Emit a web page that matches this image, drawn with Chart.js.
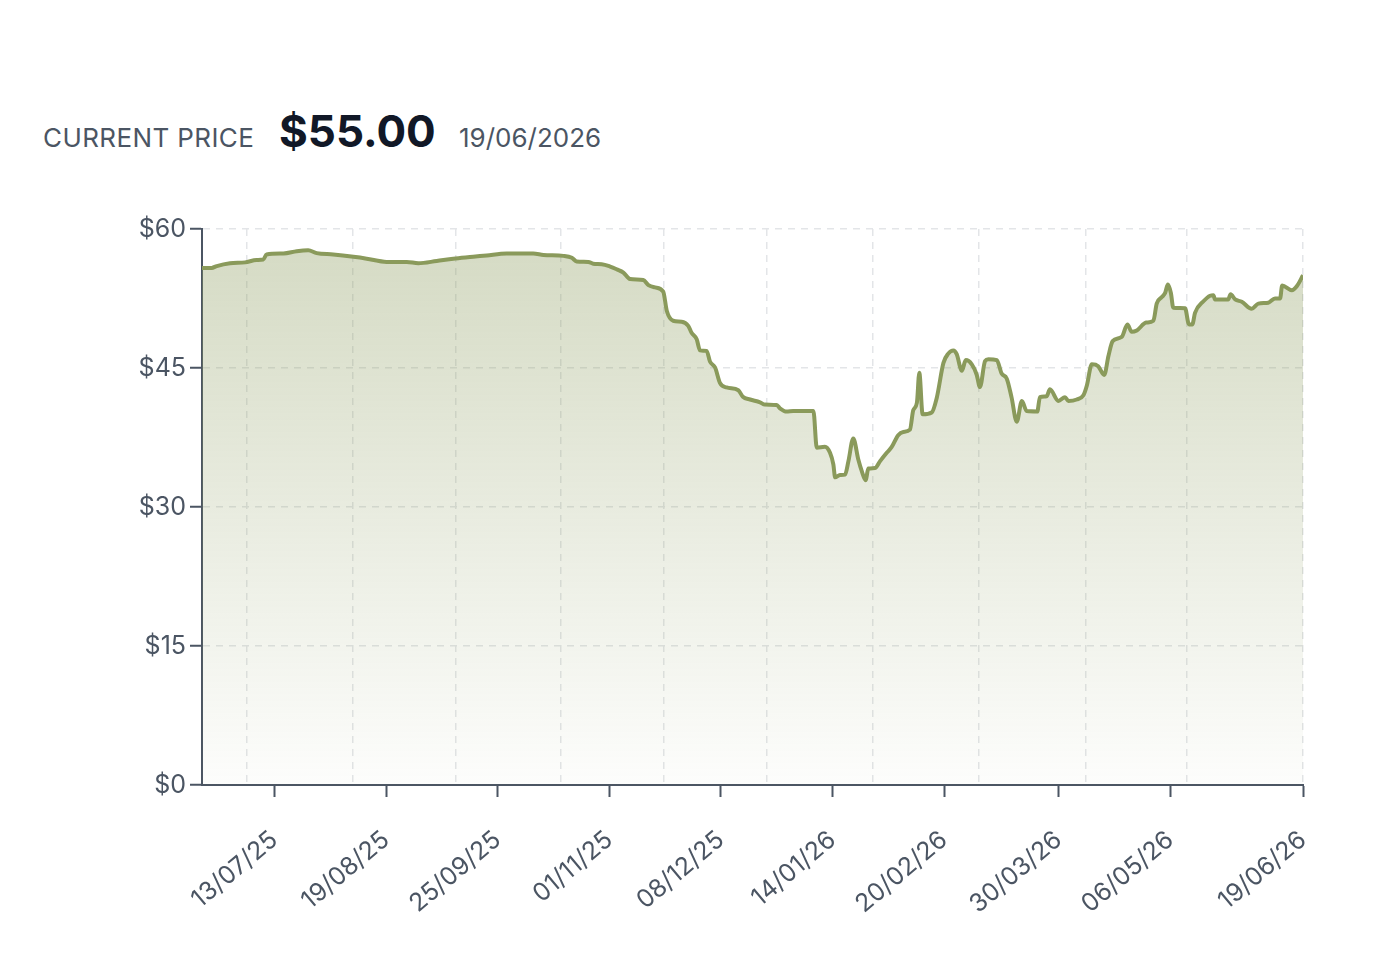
<!DOCTYPE html>
<html><head><meta charset="utf-8">
<script src="https://cdn.jsdelivr.net/npm/chart.js@4.4.0/dist/chart.umd.min.js"></script>
<style>
html,body{margin:0;padding:0;background:#fff;}
body{width:1386px;height:966px;position:relative;overflow:hidden;font-family:Inter,"Noto Sans",sans-serif;}
.lbl{position:absolute;line-height:1;white-space:nowrap;}
#wrap{position:absolute;left:0;top:180px;width:1386px;height:786px;}
</style></head><body>
<span class="lbl" style="left:43px;top:125px;font-size:26px;color:#4b5563;letter-spacing:0.4px">CURRENT PRICE</span>
<span class="lbl" style="left:279px;top:109px;font-size:44px;font-weight:700;color:#111827">$55.00</span>
<span class="lbl" style="left:459px;top:125px;font-size:26px;color:#4b5563">19/06/2026</span>
<div id="wrap"><canvas id="c"></canvas></div>
<script>
// day offsets from 19/06/2025
const days = [0,3.2,4.9,9.3,14.3,18.1,20.3,21.4,27.0,31.4,35.2,38.0,43.5,50.2,54.6,61.2,67.9,71.7,77.8,83.3,89.9,94.4,101.0,109.8,113.2,119.8,122.6,124.2,128.1,129.7,132.5,135.3,137.5,139.7,141.9,146.3,148.0,150.2,152.9,154.1,156.2,159.0,161.2,162.3,164.0,165.1,167.3,168.4,170.1,171.7,173.9,177.8,179.3,181.7,185.0,186.6,190.5,191.6,193.8,196.0,202.7,203.8,206.5,208.2,209.3,209.9,211.5,213.2,214.3,215.9,217.6,218.7,220.0,220.9,223.1,224.8,227.0,228.6,230.8,232.5,234.7,235.8,237.0,237.8,238.9,241.9,243.6,245.8,247.4,249.1,250.2,251.9,253.2,255.2,256.8,257.9,259.6,260.7,263.5,265.1,266.8,268.4,270.1,271.8,273.4,276.9,277.8,280.0,281.1,283.9,286.1,287.2,290.0,292.2,293.3,295.0,297.1,299.1,300.5,301.9,304.9,306.8,308.2,309.9,313.0,315.4,316.5,318.2,319.3,320.2,321.2,322.0,325.9,327.2,328.3,329.2,332.0,334.2,335.3,335.8,340.2,341.0,342.5,344.7,348.0,350.2,353.5,355.7,357.4,358.1,361.3,363.0,365];
const prices = [55.8,55.8,56.0,56.3,56.4,56.65,56.7,57.25,57.35,57.6,57.7,57.4,57.25,57.0,56.8,56.45,56.45,56.3,56.55,56.8,57.0,57.15,57.35,57.35,57.2,57.1,56.9,56.5,56.45,56.25,56.2,55.95,55.65,55.3,54.6,54.5,53.95,53.7,53.25,51.15,50.1,50.0,49.55,48.8,48.1,46.9,46.85,45.7,45.05,43.4,42.9,42.6,41.9,41.6,41.3,41.05,41.0,40.65,40.3,40.35,40.35,36.4,36.5,35.85,34.6,33.2,33.45,33.5,34.95,37.4,35.1,33.9,32.9,34.15,34.2,34.95,35.85,36.45,37.75,38.1,38.35,40.45,41.25,44.5,40.0,40.2,41.8,45.55,46.55,46.9,46.5,44.7,45.85,45.4,44.3,42.95,45.75,45.95,45.85,44.4,43.85,41.8,39.2,41.45,40.35,40.3,41.85,41.95,42.7,41.45,41.85,41.45,41.6,42.05,43.05,45.4,45.2,44.25,46.3,47.9,48.35,49.7,48.9,49.05,49.9,50.1,51.95,52.65,53.1,54.0,53.1,51.5,51.45,49.7,49.7,50.95,52.2,52.8,52.85,52.4,52.4,52.95,52.4,52.15,51.4,51.95,52.05,52.5,52.5,53.9,53.4,53.85,55.0];
const xTickDays = [24,61,98,135,172,209,246,284,321,365];
const xTickLabels = ['13/07/25','19/08/25','25/09/25','01/11/25','08/12/25','14/01/26','20/02/26','30/03/26','06/05/26','19/06/26'];
const xGridDays = [14.9,50.1,84.0,119.0,153.2,187.1,222.4,257.6,292.9,326.4,365];
const yTicks = [0,15,30,45,60];

const axisColor = '#4b5563';
const gridColor = '#e3e5e8';
const tickFont = {family:'Inter', size:25};

new Chart(document.getElementById('c'), {
  type:'line',
  data:{datasets:[{
    data: days.map((d,i)=>({x:d,y:prices[i]})),
    borderColor:'#8a9a5b',
    borderWidth:4,
    pointRadius:0,
    fill:'origin',
    cubicInterpolationMode:'monotone',
    backgroundColor:(context)=>{
      const {ctx, chartArea} = context.chart;
      if(!chartArea) return 'rgba(138,154,91,0.2)';
      const g = ctx.createLinearGradient(0, chartArea.top, 0, chartArea.bottom);
      g.addColorStop(0,'rgba(138,154,91,0.37)');
      g.addColorStop(1,'rgba(138,154,91,0.02)');
      return g;
    }
  }]},
  options:{
    responsive:true,
    maintainAspectRatio:false,
    animation:false,
    layout:{padding:{top:49,right:83,bottom:31,left:0}},
    plugins:{legend:{display:false},tooltip:{enabled:false}},
    scales:{
      x:{
        type:'linear', min:0, max:365, position:'bottom',
        afterBuildTicks:(s)=>{ s.ticks = xTickDays.map(v=>({value:v})); },
        afterFit:(s)=>{ s.height = 150; },
        ticks:{
          autoSkip:false, minRotation:40, maxRotation:40, padding:28,
          color:axisColor, font:tickFont,
          callback:(v)=>{ const i = xTickDays.indexOf(v); return i>=0 ? xTickLabels[i] : ''; }
        },
        grid:{drawOnChartArea:false, drawTicks:true, tickLength:12, tickColor:axisColor, tickWidth:2},
        border:{display:true, color:axisColor, width:2}
      },
      x2:{
        type:'linear', min:0, max:365, position:'top',
        afterBuildTicks:(s)=>{ s.ticks = xGridDays.map(v=>({value:v})); },
        ticks:{display:false},
        grid:{drawTicks:false, color:gridColor, lineWidth:1.5},
        border:{display:false, dash:[7,6]}
      },
      y:{
        type:'linear', min:0, max:60,
        afterBuildTicks:(s)=>{ s.ticks = yTicks.map(v=>({value:v})); },
        afterFit:(s)=>{ s.width = 202; },
        ticks:{color:axisColor, font:tickFont, padding:4, callback:(v)=>'$'+v},
        grid:{color:gridColor, lineWidth:1.5, tickColor:axisColor, tickLength:12, tickWidth:2},
        border:{display:true, color:axisColor, width:2, dash:[7,6]}
      }
    }
  }
});
</script>
</body></html>
